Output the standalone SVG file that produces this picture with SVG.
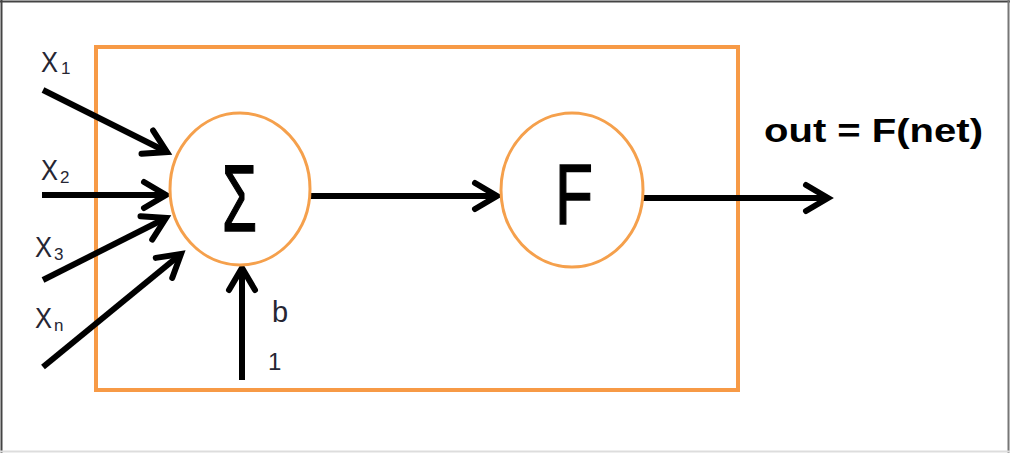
<svg xmlns="http://www.w3.org/2000/svg" width="1010" height="453" viewBox="0 0 1010 453">
  <defs>
    <style>
      .frame { fill: none; stroke: #F79A46; stroke-width: 4; }
      .node { fill: #fff; stroke: #F5A04C; stroke-width: 3; }
      .edge { fill: none; stroke: #000; stroke-width: 6; stroke-linecap: butt; }
      .lbl { font-family: "Liberation Sans", Arial, sans-serif; fill: #262633; }
      .sub { font-family: "Liberation Sans", Arial, sans-serif; fill: #262633; font-size: 17px; }
      .sym { font-family: "Liberation Sans", Arial, sans-serif; fill: #000; stroke: #000; stroke-width: 1.5; }
      .out { font-family: "Liberation Sans", Arial, sans-serif; font-weight: bold; fill: #000; }
    </style>
    <marker id="ah" markerUnits="userSpaceOnUse" markerWidth="60" markerHeight="60" viewBox="-30 -30 60 60" refX="0" refY="0" orient="auto" overflow="visible">
      <path d="M-22,-13 L0,0 L-22,13" fill="none" stroke="#000" stroke-width="6" stroke-linecap="round" stroke-linejoin="miter"/>
    </marker>
  </defs>
  <rect x="0" y="0" width="1010" height="453" fill="#fff"/>
  <g id="border">
    <line x1="0" y1="1.5" x2="1010" y2="1.5" stroke="#444" stroke-width="2"/>
    <line x1="1.5" y1="0" x2="1.5" y2="453" stroke="#444" stroke-width="2"/>
    <line x1="1008.5" y1="0" x2="1008.5" y2="453" stroke="#777" stroke-width="2"/>
    <line x1="0" y1="451.5" x2="1010" y2="451.5" stroke="#ddd" stroke-width="2"/>
  </g>
  <g id="neuron-box">
    <rect class="frame" x="96" y="47" width="642" height="343"/>
  </g>
  <g id="connectors">
    <line class="edge" x1="43" y1="90" x2="167" y2="152" marker-end="url(#ah)"/>
    <line class="edge" x1="42" y1="195" x2="166" y2="195" marker-end="url(#ah)"/>
    <line class="edge" x1="43" y1="280" x2="166" y2="218" marker-end="url(#ah)"/>
    <line class="edge" x1="43" y1="367" x2="181" y2="254" marker-end="url(#ah)"/>
    <line class="edge" x1="242" y1="380" x2="242" y2="268" marker-end="url(#ah)"/>
    <line class="edge" x1="310" y1="196" x2="497" y2="196" marker-end="url(#ah)"/>
    <line class="edge" x1="643" y1="198" x2="828" y2="198" marker-end="url(#ah)"/>
  </g>
  <g id="sum-node">
    <ellipse class="node" cx="240" cy="189" rx="70" ry="76"/>
    <text class="sym" x="222" y="231" font-size="95" textLength="35" lengthAdjust="spacingAndGlyphs">Σ</text>
  </g>
  <g id="activation-node">
    <ellipse class="node" cx="572" cy="190" rx="71" ry="77"/>
    <text class="sym" x="555" y="224" font-size="85" textLength="38" lengthAdjust="spacingAndGlyphs">F</text>
  </g>
  <g id="labels">
    <text class="lbl" x="41" y="72" font-size="30" textLength="17" lengthAdjust="spacingAndGlyphs">X</text>
    <text class="sub" x="61" y="74">1</text>
    <text class="lbl" x="41" y="180" font-size="30" textLength="17" lengthAdjust="spacingAndGlyphs">X</text>
    <text class="sub" x="60" y="183">2</text>
    <text class="lbl" x="35" y="257" font-size="30" textLength="17" lengthAdjust="spacingAndGlyphs">X</text>
    <text class="sub" x="54" y="260">3</text>
    <text class="lbl" x="35" y="328" font-size="30" textLength="17" lengthAdjust="spacingAndGlyphs">X</text>
    <text class="sub" x="54" y="331">n</text>
    <text class="lbl" x="272" y="322" font-size="29">b</text>
    <text class="lbl" x="268" y="370" font-size="24">1</text>
    <text class="out" x="764" y="142" font-size="34" textLength="219" lengthAdjust="spacingAndGlyphs">out = F(net)</text>
  </g>
</svg>
